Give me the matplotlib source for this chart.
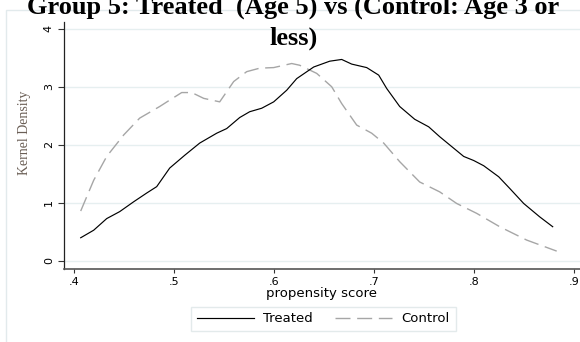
import matplotlib
matplotlib.use("Agg")
import matplotlib.pyplot as plt
from matplotlib.patches import Rectangle

# Kernel density estimates of the propensity score, by group
treated_x = [.407, .420, .433, .446, .460, .473, .483, .496, .511, .526, .543, .553,
             .566, .576, .588, .600, .613, .623, .640, .656, .668, .678, .693, .705,
             .713, .726, .741, .755, .766, .778, .790, .800, .810, .825, .836, .850,
             .866, .879]
treated_y = [.40, .53, .73, .85, 1.02, 1.17, 1.28, 1.60, 1.82, 2.03, 2.20, 2.28,
             2.47, 2.57, 2.63, 2.74, 2.94, 3.14, 3.34, 3.44, 3.47, 3.39, 3.33, 3.20,
             2.97, 2.66, 2.44, 2.31, 2.14, 1.97, 1.80, 1.73, 1.64, 1.45, 1.25, .99,
             .76, .59]

control_x = [.407, .420, .433, .450, .466, .486, .496, .508, .518, .530, .546, .560,
             .573, .586, .600, .618, .626, .643, .658, .668, .683, .698, .710, .726,
             .746, .766, .783, .803, .826, .853, .883]
control_y = [.86, 1.39, 1.80, 2.17, 2.46, 2.66, 2.77, 2.90, 2.90, 2.80, 2.74, 3.09,
             3.26, 3.32, 3.33, 3.40, 3.37, 3.23, 3.00, 2.71, 2.34, 2.20, 2.03, 1.71,
             1.36, 1.19, .99, .82, .59, .36, .17]

x_ticks = [.4, .5, .6, .7, .8, .9]
x_ticklabels = [".4", ".5", ".6", ".7", ".8", ".9"]
y_ticks = [0, 1, 2, 3, 4]
y_ticklabels = ["0", "1", "2", "3", "4"]

title_lines = ["Group 5: Treated  (Age 5) vs (Control: Age 3 or", "less)"]

W, H = 580, 342
fig = plt.figure(figsize=(W / 100, H / 100), dpi=100)
fig.patch.set_facecolor("white")

# light graph-region border
fig.patches.append(Rectangle((6 / W, -0.1), 1.2, 1 - 10 / H + 0.1,
                             transform=fig.transFigure, fill=False,
                             edgecolor="#e2eaec", lw=1.0, zorder=0))

left, right, top, bottom = 64, 580, 21.7, 269
ax = fig.add_axes([left / W, 1 - bottom / H, (right - left) / W, (bottom - top) / H])
ax.set_facecolor("white")

ax.set_xlim(.3903, .9063)
ax.set_ylim(-0.138, 4.12)

for v in y_ticks:
    ax.axhline(v, color="#e6eff0", lw=1.0, zorder=0)

dash_lw = 1.0
ax.plot(treated_x, treated_y, color="black", lw=0.85, label="Treated", zorder=3)
ax.plot(control_x, control_y, color="#a6a6a6", lw=dash_lw,
        linestyle=(0, (10.8 / dash_lw, 4.8 / dash_lw)), label="Control", zorder=2)

for s in ["top", "right"]:
    ax.spines[s].set_visible(False)
ax.spines["left"].set_color("#222222")
ax.spines["left"].set_linewidth(0.9)
ax.spines["bottom"].set_color("#555555")
ax.spines["bottom"].set_linewidth(1.2)

ax.set_xticks(x_ticks)
ax.set_xticklabels(x_ticklabels)
ax.set_yticks(y_ticks)
ax.set_yticklabels(y_ticklabels, rotation=90, va="center")
ax.tick_params(axis="x", length=3, width=0.8, color="#333333", pad=2.5,
               labelsize=8.0, labelcolor="black")
ax.tick_params(axis="y", length=4.3, width=0.8, color="#333333", pad=3,
               labelsize=8.0, labelcolor="black")
for lab in ax.get_xticklabels() + ax.get_yticklabels():
    lab.set_fontfamily("DejaVu Sans")

ax.set_xlabel("propensity score", fontsize=9.5, family="DejaVu Sans", va="top")
ax.xaxis.set_label_coords(0.5, (bottom - 287.5) / (bottom - top))

ax.set_ylabel("Kernel Density", fontsize=10, family="Liberation Serif",
              color="#6a5e55")
ax.yaxis.set_label_coords((31 - left) / (right - left), (bottom - 132.5) / (bottom - top))

leg = fig.legend(loc="center", bbox_to_anchor=(323.5 / W, 1 - 319 / H), ncol=2,
                 frameon=True, fancybox=False, edgecolor="#dce5e7",
                 prop={"family": "DejaVu Sans", "size": 9.5},
                 handlelength=4.3, handletextpad=0.73, columnspacing=1.67,
                 borderpad=0.45, borderaxespad=0)
leg.get_frame().set_linewidth(1.0)

# two-line bold title; the first line runs up to the top edge
for line, base in zip(title_lines, [13.5, 45.0]):
    fig.text(293.5 / W, 1 - base / H, line, ha="center", va="baseline",
             fontsize=19, fontweight="bold", family="Liberation Serif")

fig.savefig("out.png", dpi=100, facecolor="white")
